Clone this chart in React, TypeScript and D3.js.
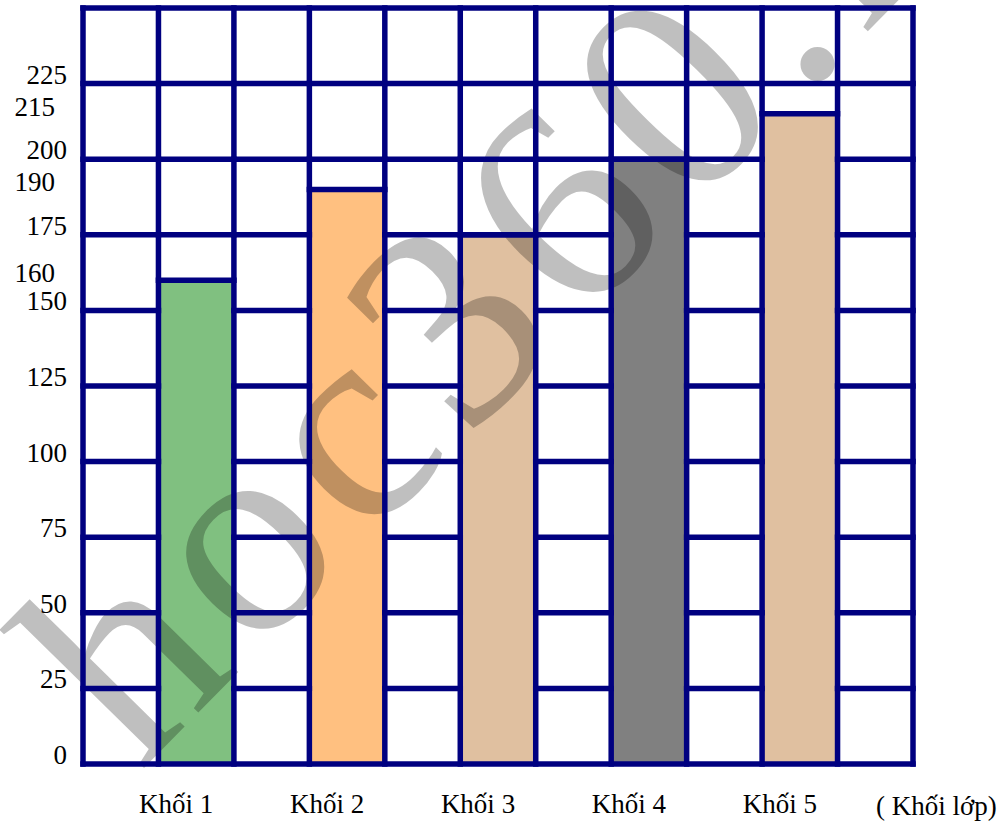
import * as d3 from "d3";

// Data
const categories = ["Khối 1", "Khối 2", "Khối 3", "Khối 4", "Khối 5"];
const values = [160, 190, 175, 200, 215];
const barColors = ["#80c080", "#ffc080", "#e0c0a0", "#808080", "#e0c0a0"];
const gridTicks = [0, 25, 50, 75, 100, 125, 150, 175, 200, 225];
const extraTicks = [160, 190, 215];
const axisTitle = "( Khối lớp)";
const watermark = "hoc360.net";

const W = 1005;
const H = 825;
const NAVY = "#000080";
const LW = 5.5;
const FONT = "'Liberation Serif', 'Times New Roman', serif";

const App = () => {
  const nCols = categories.length * 2 + 1;
  const cols = d3.range(nCols);

  const x = d3.scaleBand<number>().domain(cols).range([83, 913]).padding(0);
  const y = d3.scaleLinear().domain([0, 250]).range([764, 8]);

  // bar i sits in column 2*i+1
  const barOf = (c: number) => (c % 2 === 1 ? (c - 1) / 2 : -1);

  const hLines: { x1: number; x2: number; y: number }[] = [];
  cols.forEach((c) => {
    const b = barOf(c);
    gridTicks.slice(1).forEach((t) => {
      if (b >= 0 && t < values[b]) return;
      hLines.push({ x1: x(c)!, x2: x(c)! + x.bandwidth(), y: y(t) });
    });
    if (b >= 0) hLines.push({ x1: x(c)!, x2: x(c)! + x.bandwidth(), y: y(values[b]) });
  });

  const xs = cols.map((c) => x(c)!).concat([x(nCols - 1)! + x.bandwidth()]);

  return (
    <svg
      width={W}
      height={H}
      style={{ position: "absolute", left: 0, top: 0, background: "#fff" }}
      fontFamily={FONT}
    >
      <defs>
        <clipPath id="page">
          <rect x={0} y={0} width={W} height={H} />
        </clipPath>
      </defs>

      {/* bars */}
      {values.map((v, i) => {
        const c = 2 * i + 1;
        return (
          <rect
            key={i}
            x={x(c)}
            y={y(v)}
            width={x.bandwidth()}
            height={y(0) - y(v)}
            fill={barColors[i]}
          />
        );
      })}

      {/* watermark */}
      <g clipPath="url(#page)">
        <text
          transform={`translate(140,772) rotate(-45.5)`}
          fontSize={288}
          letterSpacing={16}
          fill="#000"
          fillOpacity={0.25}
          fontFamily={FONT}
        >
          {watermark}
        </text>
      </g>

      {/* horizontal grid */}
      {hLines.map((l, i) => (
        <line key={i} x1={l.x1} x2={l.x2} y1={l.y} y2={l.y} stroke={NAVY} strokeWidth={LW} strokeLinecap="square" />
      ))}
      {/* vertical grid */}
      {xs.map((xv, i) => (
        <line key={i} x1={xv} x2={xv} y1={y(250)} y2={y(0)} stroke={NAVY} strokeWidth={LW} strokeLinecap="square" />
      ))}
      <line x1={xs[0]} x2={xs[xs.length - 1]} y1={y(0)} y2={y(0)} stroke={NAVY} strokeWidth={LW} strokeLinecap="square" />
      <line x1={xs[0]} x2={xs[xs.length - 1]} y1={y(250)} y2={y(250)} stroke={NAVY} strokeWidth={LW} strokeLinecap="square" />

      {/* y labels */}
      {gridTicks.map((t) => (
        <text key={t} x={67} y={y(t) - 9} textAnchor="end" dominantBaseline="central" fontSize={27}>
          {t}
        </text>
      ))}
      {extraTicks.map((t) => (
        <text key={t} x={55} y={y(t) - 7} textAnchor="end" dominantBaseline="central" fontSize={27}>
          {t}
        </text>
      ))}

      {/* category labels */}
      {categories.map((c, i) => (
        <text key={c} x={x(2 * i + 1)! + x.bandwidth() / 2 - 20} y={813} textAnchor="middle" fontSize={27}>
          {c}
        </text>
      ))}
      <text x={876} y={815} fontSize={27}>
        {axisTitle}
      </text>
    </svg>
  );
};

export default App;
